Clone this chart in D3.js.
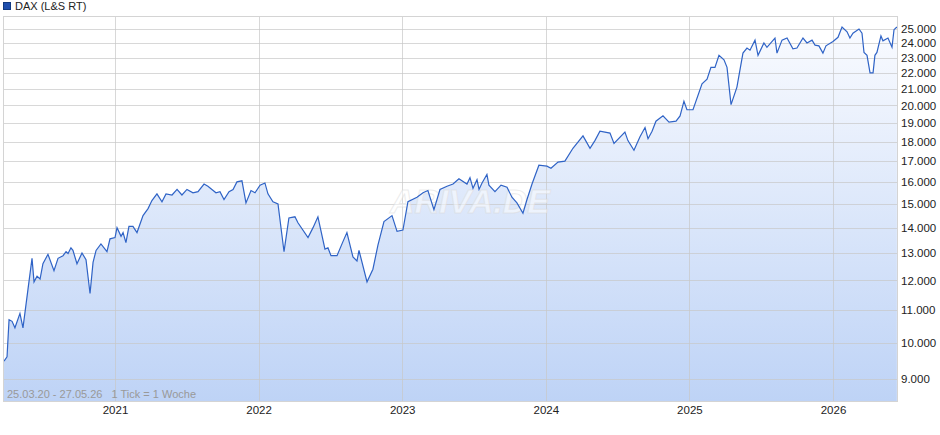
<!DOCTYPE html>
<html><head><meta charset="utf-8">
<script src="https://cdn.jsdelivr.net/npm/d3@7"></script>
<style>body{margin:0;background:#fff;font-family:"Liberation Sans",Arial,sans-serif}</style>
</head><body><svg id="c" width="940" height="435"></svg>
<script>
const years = [2020.227,2020.248,2020.262,2020.283,2020.303,2020.338,2020.359,2020.394,2020.422,2020.436,2020.457,2020.478,2020.498,2020.533,2020.575,2020.603,2020.638,2020.659,2020.673,2020.693,2020.707,2020.735,2020.770,2020.798,2020.826,2020.847,2020.868,2020.902,2020.944,2020.965,2021.000,2021.014,2021.042,2021.056,2021.076,2021.097,2021.125,2021.153,2021.195,2021.230,2021.257,2021.292,2021.327,2021.355,2021.397,2021.432,2021.466,2021.501,2021.543,2021.578,2021.620,2021.647,2021.703,2021.731,2021.759,2021.794,2021.822,2021.849,2021.884,2021.912,2021.947,2021.975,2022.010,2022.044,2022.065,2022.100,2022.135,2022.177,2022.211,2022.253,2022.274,2022.344,2022.379,2022.413,2022.462,2022.483,2022.504,2022.546,2022.588,2022.615,2022.657,2022.685,2022.699,2022.755,2022.796,2022.831,2022.873,2022.929,2022.964,2023.005,2023.040,2023.103,2023.145,2023.179,2023.221,2023.263,2023.312,2023.354,2023.395,2023.451,2023.472,2023.493,2023.521,2023.535,2023.556,2023.590,2023.604,2023.646,2023.688,2023.730,2023.764,2023.799,2023.841,2023.869,2023.904,2023.952,2024.008,2024.036,2024.085,2024.133,2024.189,2024.259,2024.308,2024.342,2024.377,2024.447,2024.475,2024.551,2024.572,2024.614,2024.656,2024.691,2024.712,2024.740,2024.767,2024.816,2024.858,2024.907,2024.935,2024.962,2024.983,2025.025,2025.088,2025.123,2025.150,2025.178,2025.206,2025.241,2025.262,2025.290,2025.331,2025.373,2025.401,2025.422,2025.457,2025.478,2025.519,2025.540,2025.596,2025.610,2025.645,2025.680,2025.721,2025.749,2025.791,2025.819,2025.854,2025.875,2025.902,2025.930,2025.951,2026.000,2026.035,2026.063,2026.098,2026.118,2026.139,2026.181,2026.202,2026.216,2026.237,2026.258,2026.279,2026.292,2026.306,2026.334,2026.348,2026.383,2026.411,2026.425,2026.445];
const values = [9480,9600,10700,10650,10450,10900,10450,11700,12800,11950,12150,12050,12600,12950,12350,12800,12900,13050,12980,13200,13100,12600,13000,12750,11550,12650,13100,13350,13050,13550,13600,14000,13650,13800,13400,14050,14050,13800,14500,14800,15150,15450,15100,15450,15400,15650,15400,15650,15500,15550,15900,15800,15500,15550,15200,15550,15650,16000,16050,15050,15600,15500,15850,15950,15450,15100,15000,13050,14400,14450,14200,13600,14000,14450,13150,13200,12900,12900,13450,13800,12850,12700,13100,11950,12400,13300,14250,14500,13850,13900,15100,15300,15500,15600,14750,15650,15800,15900,16150,15900,16200,15700,16100,15650,15950,16350,15850,15550,15850,15750,15300,15050,14600,15200,15900,16800,16750,16650,16950,17000,17650,18300,17650,18050,18550,18450,17900,18500,18050,17550,18250,18750,18150,18550,19100,19400,19050,19100,19400,20250,19750,19750,21300,21600,22350,22350,23150,22850,22350,20050,21100,23300,23650,23500,24200,23150,24000,23700,24350,23300,24200,24350,23600,23650,24350,24000,24200,23850,23800,23300,23800,24100,24400,25150,24800,24350,24700,25000,24700,23350,23150,22000,22000,23150,23350,24500,24150,24350,23700,24950,25150];
const yTicks = [9000,10000,11000,12000,13000,14000,15000,16000,17000,18000,19000,20000,21000,22000,23000,24000,25000];
const xTicks = [2021,2022,2023,2024,2025,2026];
const seriesName = "DAX (L&S RT)";
const footerText = "25.03.20 - 27.05.26   1 Tick = 1 Woche";

const L=3,R=897,T=16,B=401;
const svg=d3.select("#c");
const x=d3.scaleLinear().domain([2020.2199,2026.4458]).range([L,R]);
const y=d3.scaleLog().domain([8440,25967]).range([B,T]);
const defs=svg.append("defs");
const g=defs.append("linearGradient").attr("id","gr").attr("gradientUnits","userSpaceOnUse")
 .attr("x1",0).attr("y1",T).attr("x2",0).attr("y2",B);
g.append("stop").attr("offset","0%").attr("stop-color","#fbfcff");
g.append("stop").attr("offset","100%").attr("stop-color","#bed3f6");

const n=Math.min(years.length,values.length);
const data=years.slice(0,n).map((d,i)=>({t:d,v:values[i]}));
const areaGen=d3.area().x(d=>x(d.t)).y0(B).y1(d=>y(d.v));
svg.append("path").attr("fill","url(#gr)").attr("stroke","none").attr("d",areaGen(data));
svg.append("g").selectAll("line").data(yTicks).join("line")
 .attr("x1",L).attr("x2",R).attr("y1",d=>Math.round(y(d))+0.5).attr("y2",d=>Math.round(y(d))+0.5)
 .attr("stroke","#c8c8c8").attr("stroke-opacity",0.7);
svg.append("g").selectAll("line").data(xTicks).join("line")
 .attr("y1",T).attr("y2",B).attr("x1",d=>Math.round(x(d))+0.5).attr("x2",d=>Math.round(x(d))+0.5)
 .attr("stroke","#c8c8c8").attr("stroke-opacity",0.7);
svg.append("text").attr("x",470).attr("y",213).attr("text-anchor","middle").attr("font-size",34)
 .attr("font-style","italic").attr("font-weight","bold").attr("fill","#ffffff").attr("fill-opacity",0.5)
 .attr("stroke","#d8d8d8").attr("stroke-opacity",0.5).text("ARIVA.DE");
const lineGen=d3.line().x(d=>x(d.t)).y(d=>y(d.v));
svg.append("path").attr("fill","none").attr("stroke","#2f63c6").attr("stroke-width",1.2).attr("d",lineGen(data));
svg.append("rect").attr("x",L+0.5).attr("y",T+0.5).attr("width",R-L).attr("height",B-T)
 .attr("fill","none").attr("stroke","#d4d4d4");
const ya=d3.axisRight(y).tickValues(yTicks).tickSize(0).tickPadding(4)
 .tickFormat(d=>d3.format(",")(d).replace(/,/g,"."));
svg.append("g").attr("transform",`translate(${R},0)`).call(ya).call(a=>a.select(".domain").remove())
 .selectAll("text").attr("font-size",11.5).attr("fill","#222").attr("font-family","Liberation Sans, Arial");
const xa=d3.axisBottom(x).tickValues(xTicks).tickSize(0).tickPadding(5).tickFormat(d3.format("d"));
svg.append("g").attr("transform",`translate(0,${B})`).call(xa).call(a=>a.select(".domain").remove())
 .selectAll("text").attr("font-size",11.5).attr("fill","#222").attr("font-family","Liberation Sans, Arial");
svg.append("rect").attr("x",3.5).attr("y",2.5).attr("width",7).attr("height",7).attr("fill","#1f4fae").attr("stroke","#123a80");
svg.append("text").attr("x",15).attr("y",10).attr("font-size",11).attr("fill","#222").text(seriesName);
svg.append("text").attr("x",7).attr("y",398).attr("font-size",11).attr("fill","#999").attr("xml:space","preserve").text(footerText);
</script></body></html>
